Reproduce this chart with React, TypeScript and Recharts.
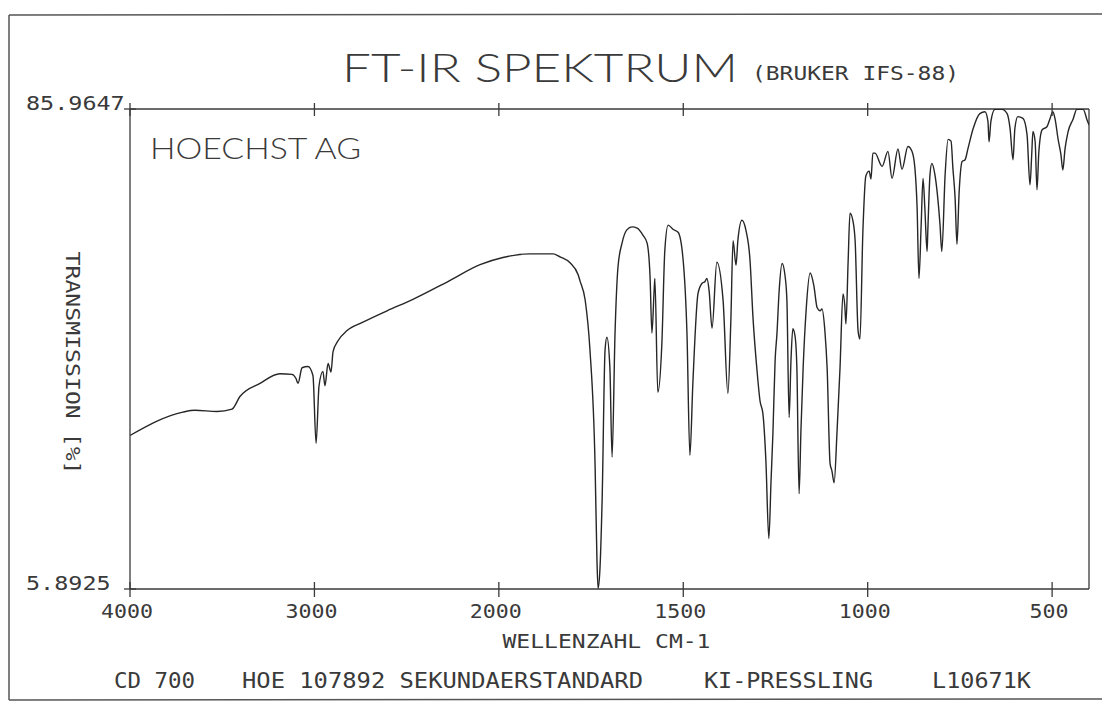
import React from 'react';
import { LineChart, Line, XAxis, YAxis, ReferenceLine, Label } from 'recharts';

// ---- data ----
const wavenumbers = [
  4000, 3713, 3648, 3528, 3447, 3404, 3295, 3187, 3122, 3100, 3089, 3067, 3035, 3008, 2991, 2975,
  2954, 2943, 2926, 2910, 2899, 2872, 2823, 2737, 2606, 2466, 2281, 2102, 1989, 1916, 1853, 1834,
  1807, 1785, 1780, 1766, 1753, 1739, 1734, 1731, 1726, 1720, 1712, 1707, 1699, 1693, 1685, 1677,
  1666, 1653, 1639, 1625, 1609, 1598, 1590, 1585, 1579, 1577, 1569, 1558, 1550, 1541, 1528, 1514,
  1501, 1490, 1482, 1474, 1460, 1449, 1441, 1436, 1430, 1422, 1409, 1392, 1379, 1371, 1365, 1357,
  1352, 1341, 1330, 1319, 1311, 1300, 1292, 1284, 1276, 1268, 1262, 1257, 1251, 1246, 1240, 1232,
  1224, 1219, 1213, 1208, 1203, 1197, 1192, 1186, 1181, 1175, 1167, 1156, 1146, 1137, 1129, 1124,
  1116, 1110, 1102, 1097, 1091, 1083, 1075, 1067, 1062, 1059, 1053, 1048, 1040, 1034, 1026, 1021,
  1013, 1005, 996, 991, 986, 980, 961, 945, 934, 918, 907, 891, 880, 872, 866, 861,
  855, 850, 845, 839, 837, 831, 826, 818, 804, 799, 790, 782, 774, 769, 763, 758,
  752, 744, 736, 728, 714, 696, 682, 674, 671, 666, 655, 636, 622, 614, 606, 601,
  593, 579, 568, 560, 555, 552, 546, 541, 536, 527, 514, 506, 498, 492, 484, 476,
  471, 465, 457, 443, 433, 416, 405, 400,
];
const transmission = [
  31.5, 35.4, 35.7, 35.5, 35.9, 38.0, 40.2, 41.8, 41.7, 41.0, 40.2, 42.8, 43.0, 41.5, 30.2, 39.8,
  42.2, 39.8, 43.5, 42.1, 45.5, 47.3, 49.0, 50.4, 52.3, 54.2, 57.1, 60.0, 61.2, 61.8, 61.8, 61.3,
  60.3, 58.3, 57.3, 54.1, 45.8, 26.3, 10.7, 6.0, 9.1, 20.7, 45.8, 47.9, 42.9, 27.9, 48.6, 59.6,
  63.6, 65.8, 66.3, 66.1, 64.9, 63.6, 57.9, 48.6, 55.7, 57.7, 38.7, 46.9, 62.4, 66.6, 65.9, 65.4,
  61.2, 48.6, 28.2, 40.2, 55.2, 56.9, 57.2, 57.7, 55.7, 49.4, 60.4, 54.0, 38.5, 50.7, 64.0, 59.9,
  64.0, 67.4, 65.7, 60.7, 51.2, 42.3, 37.3, 35.1, 27.3, 14.3, 24.0, 31.8, 44.0, 48.5, 55.7, 60.2,
  58.1, 54.0, 34.5, 44.0, 49.3, 48.1, 42.8, 21.8, 32.3, 42.8, 52.3, 58.6, 56.5, 52.8, 52.3, 52.6,
  48.9, 42.8, 26.8, 25.6, 23.6, 32.3, 42.8, 55.1, 53.1, 50.1, 60.6, 68.6, 67.3, 63.9, 48.9, 47.6,
  65.6, 74.8, 75.6, 74.3, 78.6, 78.6, 76.4, 78.9, 74.4, 79.3, 75.9, 79.7, 78.9, 76.1, 69.4, 57.7,
  66.7, 74.4, 69.4, 62.2, 65.6, 75.1, 76.9, 75.1, 66.7, 62.2, 75.1, 80.9, 80.6, 76.1, 71.1, 63.4,
  72.2, 77.2, 77.5, 79.4, 82.7, 85.2, 85.5, 83.9, 80.5, 83.9, 85.9, 85.9, 85.2, 82.7, 77.5, 82.7,
  84.7, 84.4, 81.7, 73.3, 78.8, 82.2, 80.5, 72.5, 78.8, 82.5, 83.0, 84.3, 85.5, 84.3, 81.0, 78.3,
  75.8, 79.3, 82.1, 84.3, 85.9, 85.9, 84.1, 83.3,
];
const xTickLabels = [4000, 3000, 2000, 1500, 1000, 500];
const yTickLabels = [5.8925, 85.9647];

// ---- abscissa: scale expanded 2x below 2000 cm-1 ----
const X_START = 4000;
const X_BREAK = 2000;
const X_END = 400;
const toPos = (w: number) =>
  w >= X_BREAK ? X_START - w : X_START - X_BREAK + (X_BREAK - w) * 2;

const data = wavenumbers.map((w, i) => ({ pos: toPos(w), t: transmission[i] }));
const xTicks = xTickLabels.map(toPos);
const posLabel = new Map<number, number>(xTicks.map((p, i) => [p, xTickLabels[i]]));
const Y_MIN = yTickLabels[0];
const Y_MAX = yTickLabels[1];

// ---- layout ----
const W = 1102;
const H = 702;
const PLOT_LEFT = 130;
const PLOT_RIGHT = 1089;
const PLOT_TOP = 109;
const PLOT_BOTTOM = 589;
const PLOT_H = PLOT_BOTTOM - PLOT_TOP;
const INK = '#3a3a3a';
const MONO = "'DejaVu Sans Mono', monospace";
const LIGHT = "'Lato', 'DejaVu Sans', sans-serif";

const XTick = (props: any) => {
  const { x, y, payload } = props;
  const label = String(posLabel.get(payload.value) ?? '');
  return (
    <g>
      <line x1={x} x2={x} y1={y - 7} y2={y + 8} stroke={INK} strokeWidth={1.3} />
      <line x1={x} x2={x} y1={y - PLOT_H - 6} y2={y - PLOT_H + 7} stroke={INK} strokeWidth={1.3} />
      <text
        x={x - 3}
        y={y + 29}
        textAnchor="middle"
        fontFamily={MONO}
        fontSize={20}
        fill={INK}
        textLength={label.length * 13}
        lengthAdjust="spacingAndGlyphs"
      >
        {label}
      </text>
    </g>
  );
};

const YTick = (props: any) => {
  const { x, y, payload } = props;
  const label = Number(payload.value).toFixed(4);
  return (
    <g>
      <line x1={x - 6} x2={x + 6} y1={y} y2={y} stroke={INK} strokeWidth={1.3} />
      <text
        x={x - 104}
        y={y + 1}
        textAnchor="start"
        fontFamily={MONO}
        fontSize={20}
        fill={INK}
        textLength={label.length * 14.1}
        lengthAdjust="spacingAndGlyphs"
      >
        {label}
      </text>
    </g>
  );
};

const XTitle = (props: any) => {
  const vb = props.viewBox || { x: PLOT_LEFT, y: PLOT_BOTTOM, width: PLOT_RIGHT - PLOT_LEFT, height: 60 };
  return (
    <text
      x={vb.x + vb.width / 2 - 3}
      y={vb.y + 59}
      textAnchor="middle"
      fontFamily={MONO}
      fontSize={20}
      fill={INK}
      textLength={208}
      lengthAdjust="spacingAndGlyphs"
    >
      WELLENZAHL CM-1
    </text>
  );
};

const YTitle = (props: any) => {
  const vb = props.viewBox || { x: 70, y: PLOT_TOP, width: 60, height: PLOT_H };
  const cx = vb.x - 4;
  const cy = vb.y + vb.height / 2 + 14;
  return (
    <text
      x={cx}
      y={cy}
      transform={`rotate(90, ${cx}, ${cy})`}
      textAnchor="middle"
      fontFamily={MONO}
      fontSize={20}
      fill={INK}
      textLength={223}
      lengthAdjust="spacingAndGlyphs"
    >
      TRANSMISSION [%]
    </text>
  );
};

export default function App() {
  return (
    <div style={{ position: 'absolute', left: 0, top: 0, width: W, height: H, background: '#fff' }}>
      <LineChart
        width={W}
        height={H}
        data={data}
        margin={{ top: PLOT_TOP, right: W - PLOT_RIGHT, bottom: H - PLOT_BOTTOM - 60, left: PLOT_LEFT - 60 }}
      >
        <XAxis
          dataKey="pos"
          type="number"
          domain={[0, toPos(X_END)]}
          ticks={xTicks}
          interval={0}
          height={60}
          tickSize={0}
          tickMargin={0}
          tickLine={false}
          tick={<XTick />}
          axisLine={{ stroke: INK, strokeWidth: 1.3 }}
          allowDataOverflow
        >
          <Label content={<XTitle />} />
        </XAxis>
        <YAxis
          type="number"
          domain={[Y_MIN, Y_MAX]}
          ticks={yTickLabels}
          interval={0}
          width={60}
          tickSize={0}
          tickMargin={0}
          tickLine={false}
          tick={<YTick />}
          axisLine={{ stroke: INK, strokeWidth: 1.3 }}
          allowDataOverflow
        >
          <Label content={<YTitle />} />
        </YAxis>
        <ReferenceLine y={Y_MAX} stroke={INK} strokeWidth={1.3} />
        <ReferenceLine x={toPos(X_END)} stroke={INK} strokeWidth={1.3} />
        <Line
          type="monotone"
          dataKey="t"
          stroke="#262626"
          strokeWidth={1.4}
          dot={false}
          activeDot={false}
          isAnimationActive={false}
        />
      </LineChart>
      <svg
        width={W}
        height={H}
        style={{ position: 'absolute', left: 0, top: 0, pointerEvents: 'none' }}
      >
        <line x1={9} x2={1102} y1={15} y2={14} stroke="#555" strokeWidth={1.5} />
        <line x1={9} x2={9} y1={15} y2={700} stroke="#555" strokeWidth={1.5} />
        <line x1={9} x2={1102} y1={700} y2={699} stroke="#555" strokeWidth={1.5} />
        <text
          x={342}
          y={82}
          fontFamily={LIGHT}
          fontWeight={300}
          fontSize={40}
          fill={INK}
          textLength={396}
          lengthAdjust="spacingAndGlyphs"
        >
          FT-IR SPEKTRUM
        </text>
        <text
          x={752}
          y={80}
          fontFamily={MONO}
          fontSize={19}
          fill={INK}
          textLength={207}
          lengthAdjust="spacingAndGlyphs"
        >
          (BRUKER IFS-88)
        </text>
        <text
          x={150}
          y={159}
          fontFamily={LIGHT}
          fontWeight={300}
          fontSize={29}
          fill={INK}
          textLength={211}
          lengthAdjust="spacingAndGlyphs"
        >
          HOECHST AG
        </text>
        <text x={114} y={688} fontFamily={MONO} fontSize={21} fill={INK} textLength={81} lengthAdjust="spacingAndGlyphs">
          CD 700
        </text>
        <text x={242} y={688} fontFamily={MONO} fontSize={21} fill={INK} textLength={401} lengthAdjust="spacingAndGlyphs">
          HOE 107892 SEKUNDAERSTANDARD
        </text>
        <text x={704} y={688} fontFamily={MONO} fontSize={21} fill={INK} textLength={169} lengthAdjust="spacingAndGlyphs">
          KI-PRESSLING
        </text>
        <text x={932} y={688} fontFamily={MONO} fontSize={21} fill={INK} textLength={99} lengthAdjust="spacingAndGlyphs">
          L10671K
        </text>
      </svg>
    </div>
  );
}
